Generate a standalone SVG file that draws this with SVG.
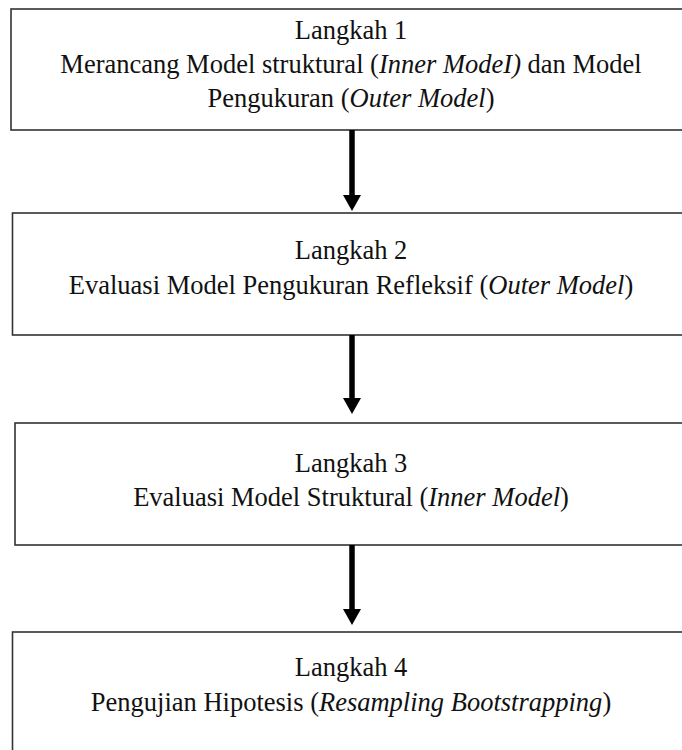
<svg xmlns="http://www.w3.org/2000/svg" width="682" height="750" viewBox="0 0 682 750">
<style>
.box{fill:#fff;stroke:#333;stroke-width:1.6}
.t{font-family:"Liberation Serif","Times New Roman",serif;font-size:26.5px;fill:#111;text-anchor:middle}
.i{font-style:italic}
.shaft{stroke:#000;stroke-width:5.5;fill:none}
.head{fill:#000}
</style>
<rect width="682" height="750" fill="#fff"/>
<g id="step1">
<rect class="box" x="11" y="9" width="690" height="121"/>
<text class="t" x="351" y="39">Langkah 1</text>
<text class="t" x="351" y="73">Merancang Model struktural (<tspan class="i">Inner ModeI)</tspan> dan Model</text>
<text class="t" x="351" y="107">Pengukuran (<tspan class="i">Outer Model</tspan>)</text>
</g>
<g id="step2">
<rect class="box" x="12.5" y="213" width="690" height="122"/>
<text class="t" x="351" y="259">Langkah 2</text>
<text class="t" x="351" y="294">Evaluasi Model Pengukuran Refleksif (<tspan class="i">Outer Model</tspan>)</text>
</g>
<g id="step3">
<rect class="box" x="15" y="423" width="690" height="122"/>
<text class="t" x="351" y="472">Langkah 3</text>
<text class="t" x="351" y="506">Evaluasi Model Struktural (<tspan class="i">Inner Model</tspan>)</text>
</g>
<g id="step4">
<rect class="box" x="12.5" y="632" width="690" height="140"/>
<text class="t" x="351" y="676">Langkah 4</text>
<text class="t" x="351" y="711">Pengujian Hipotesis (<tspan class="i">Resampling Bootstrapping</tspan>)</text>
</g>
<g id="connectors">
<line class="shaft" x1="352" y1="130" x2="352" y2="197"/>
<polygon class="head" points="343,195 361,195 352,211"/>
<line class="shaft" x1="352" y1="335" x2="352" y2="400"/>
<polygon class="head" points="343,398 361,398 352,414"/>
<line class="shaft" x1="352" y1="545" x2="352" y2="611"/>
<polygon class="head" points="343,609 361,609 352,625"/>
</g>
</svg>
